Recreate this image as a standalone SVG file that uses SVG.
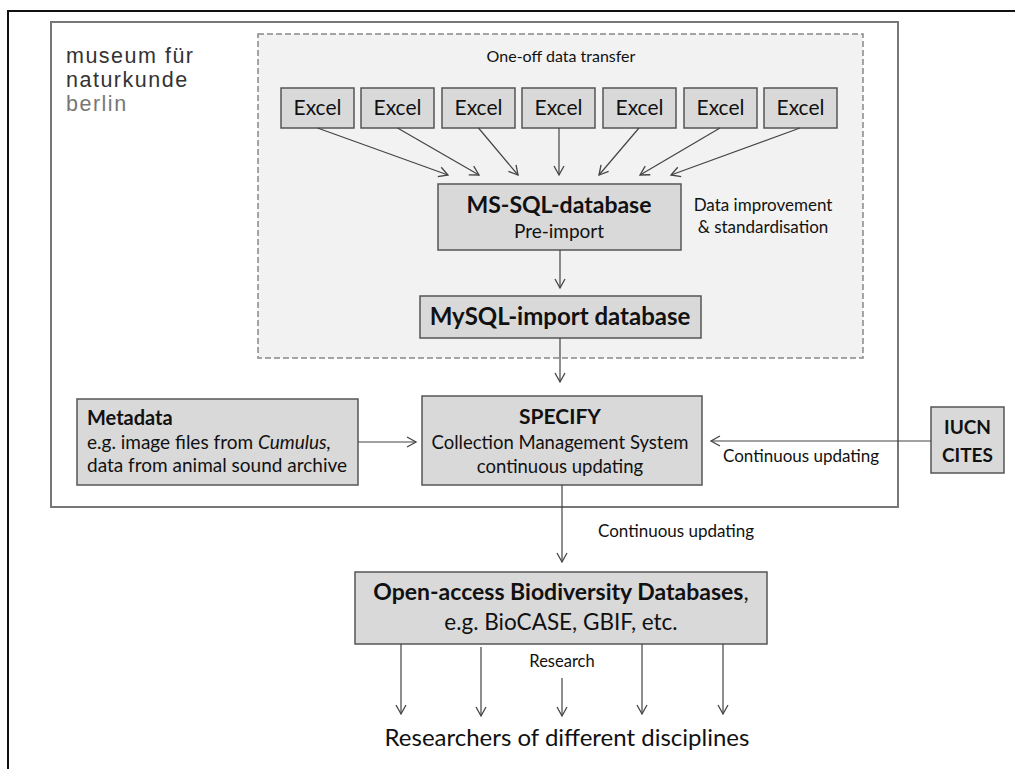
<svg xmlns="http://www.w3.org/2000/svg" width="1015" height="769" viewBox="0 0 1015 769">
<defs>
<marker id="ah" markerWidth="12" markerHeight="12" refX="10" refY="6" orient="auto" markerUnits="userSpaceOnUse">
<path d="M1,1 L10,6 L1,11" fill="none" stroke="#444" stroke-width="1.3"/>
</marker>
<style>
.box{fill:#d9d9d9;stroke:#555;stroke-width:1.5}
.t{font-family:Lato,"Open Sans",sans-serif;fill:#111}
.b{font-weight:bold}
.c{text-anchor:middle}
.con line{stroke:#444;stroke-width:1.2;marker-end:url(#ah)}
</style>
</defs>
<rect x="0" y="0" width="1015" height="769" fill="#fff"/>
<path d="M8,769 V11 H1015" fill="none" stroke="#111" stroke-width="2"/>
<rect id="museum" x="51" y="22" width="847" height="485" fill="#fff" stroke="#777" stroke-width="2"/>
<g id="logo" font-family="'Liberation Sans',Arial,sans-serif" font-size="21.5" letter-spacing="1.5">
<text x="66" y="63" fill="#333">museum für</text>
<text x="66" y="87" fill="#333">naturkunde</text>
<text x="66" y="111" fill="#777">berlin</text>
</g>
<g id="oneoff">
<rect x="258" y="34" width="605" height="324" fill="#f2f2f2" stroke="#888" stroke-width="1.5" stroke-dasharray="6,3"/>
<text class="t c" x="561" y="62" font-size="16">One-off data transfer</text>
</g>
<g id="excel1"><rect class="box" x="281" y="88" width="73" height="40"/><text class="t c" x="317.5" y="115" font-size="21">Excel</text></g>
<g id="excel2"><rect class="box" x="361" y="88" width="73" height="40"/><text class="t c" x="397.5" y="115" font-size="21">Excel</text></g>
<g id="excel3"><rect class="box" x="442" y="88" width="73" height="40"/><text class="t c" x="478.5" y="115" font-size="21">Excel</text></g>
<g id="excel4"><rect class="box" x="522" y="88" width="73" height="40"/><text class="t c" x="558.5" y="115" font-size="21">Excel</text></g>
<g id="excel5"><rect class="box" x="603" y="88" width="73" height="40"/><text class="t c" x="639.5" y="115" font-size="21">Excel</text></g>
<g id="excel6"><rect class="box" x="684" y="88" width="73" height="40"/><text class="t c" x="720.5" y="115" font-size="21">Excel</text></g>
<g id="excel7"><rect class="box" x="764" y="88" width="73" height="40"/><text class="t c" x="800.5" y="115" font-size="21">Excel</text></g>
<g id="mssql">
<rect class="box" x="438" y="184" width="243" height="66"/>
<text class="t b c" x="559" y="213" font-size="23">MS-SQL-database</text>
<text class="t c" x="559" y="238" font-size="19">Pre-import</text>
</g>
<g id="improve">
<text class="t c" x="763" y="211" font-size="17">Data improvement</text>
<text class="t c" x="763" y="233" font-size="17">&amp; standardisation</text>
</g>
<g id="mysql">
<rect class="box" x="420" y="296" width="281" height="42"/>
<text class="t b c" x="560" y="325" font-size="24">MySQL-import database</text>
</g>
<g id="specify">
<rect class="box" x="422" y="396" width="280" height="89"/>
<text class="t b c" x="560" y="424" font-size="21">SPECIFY</text>
<text class="t c" x="560" y="449" font-size="18.5">Collection Management System</text>
<text class="t c" x="560" y="473" font-size="18.5">continuous updating</text>
</g>
<g id="metadata">
<rect class="box" x="77" y="399" width="281" height="86"/>
<text class="t b" x="87" y="425" font-size="20">Metadata</text>
<text class="t" x="87" y="449" font-size="19">e.g. image files from <tspan font-style="italic">Cumulus,</tspan></text>
<text class="t" x="87" y="472" font-size="19">data from animal sound archive</text>
</g>
<g id="iucn">
<rect class="box" x="931" y="407" width="73" height="66"/>
<text class="t b c" x="967.5" y="434" font-size="19">IUCN</text>
<text class="t b c" x="967.5" y="462" font-size="19">CITES</text>
</g>
<g id="openaccess">
<rect class="box" x="355" y="572" width="412" height="72"/>
<text class="t b c" x="561" y="600" font-size="23">Open-access Biodiversity Databases<tspan font-weight="normal">,</tspan></text>
<text class="t c" x="561" y="630" font-size="22.5">e.g. BioCASE, GBIF, etc.</text>
</g>
<g id="researchers">
<text class="t c" x="567" y="746" font-size="24">Researchers of different disciplines</text>
</g>
<g id="labels">
<text class="t" x="723" y="462" font-size="17">Continuous updating</text>
<text class="t" x="598" y="537" font-size="17">Continuous updating</text>
<text class="t c" x="562" y="667" font-size="16.5">Research</text>
</g>
<g class="con" id="connectors">
<line x1="317.5" y1="128" x2="448" y2="175"/>
<line x1="397.5" y1="128" x2="479" y2="175"/>
<line x1="478.5" y1="128" x2="518" y2="175"/>
<line x1="559" y1="128" x2="559" y2="175"/>
<line x1="639" y1="128" x2="599" y2="175"/>
<line x1="720" y1="128" x2="640" y2="175"/>
<line x1="800" y1="128" x2="671" y2="175"/>
<line x1="560" y1="250" x2="560" y2="288"/>
<line x1="560" y1="338" x2="560" y2="382"/>
<line x1="358" y1="442" x2="416" y2="442"/>
<line x1="931" y1="441" x2="711" y2="441"/>
<line x1="562" y1="485" x2="562" y2="562"/>
<line x1="401" y1="644" x2="401" y2="714"/>
<line x1="481" y1="647" x2="481" y2="716"/>
<line x1="562" y1="678" x2="562" y2="716"/>
<line x1="642" y1="644" x2="642" y2="714"/>
<line x1="723" y1="644" x2="723" y2="714"/>
</g>
</svg>
